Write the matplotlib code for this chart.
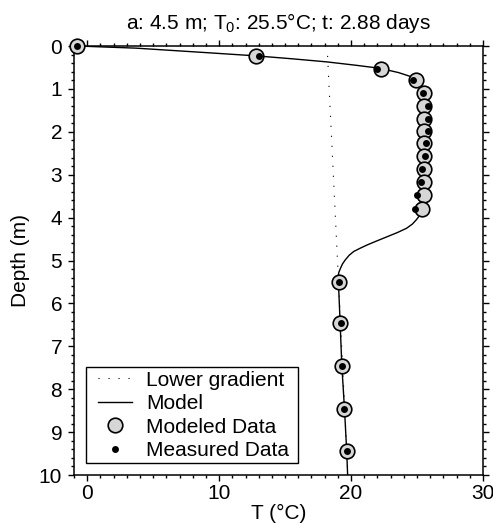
import matplotlib
matplotlib.use("Agg")
import matplotlib.pyplot as plt
from matplotlib.ticker import MultipleLocator
from matplotlib.lines import Line2D
from matplotlib.legend_handler import HandlerLine2D

plt.rcParams['font.family'] = ['Liberation Sans', 'DejaVu Sans']
plt.rcParams['mathtext.fontset'] = 'custom'
plt.rcParams['mathtext.rm'] = 'Liberation Sans'
plt.rcParams['mathtext.it'] = 'Liberation Sans:italic'
plt.rcParams['mathtext.bf'] = 'Liberation Sans:bold'

# Sensor depths (m) with modeled and measured temperatures (°C)
sensor_depth = [0.00, 0.24, 0.54, 0.79, 1.10, 1.40, 1.69, 1.98, 2.27, 2.57,
                2.87, 3.17, 3.48, 3.79, 5.51, 6.46, 7.46, 8.46, 9.45]
modeled_T = [-0.75, 12.8, 22.3, 24.9, 25.55, 25.55, 25.55, 25.55, 25.55, 25.55,
             25.55, 25.55, 25.55, 25.4, 19.05, 19.17, 19.3, 19.5, 19.67]
measured_T = [-0.75, 13.0, 22.0, 24.7, 25.45, 25.8, 25.85, 25.8, 25.7, 25.6,
              25.4, 25.3, 25.0, 24.85, 19.05, 19.22, 19.3, 19.5, 19.67]

# Continuous model profile
model_depth = [0.00, 0.05, 0.15, 0.23, 0.30, 0.37, 0.45, 0.52, 0.62, 0.70,
               0.78, 0.90, 1.05, 1.40, 1.70, 2.00, 2.30, 2.60, 2.90, 3.20,
               3.50, 3.78, 3.88, 3.95, 4.05, 4.15, 4.25, 4.35, 4.45, 4.55,
               4.64, 4.72, 4.79, 4.88, 4.99, 5.08, 5.18, 5.27, 5.36, 5.49,
               6.45, 7.45, 8.45, 9.45, 10.0]
model_T = [-0.75, 3.7, 8.8, 12.8, 15.6, 18.15, 20.4, 22.2, 23.6, 24.4,
           24.9, 25.3, 25.55, 25.6, 25.6, 25.6, 25.6, 25.6, 25.55, 25.55,
           25.5, 25.4, 25.3, 25.2, 24.95, 24.65, 24.2, 23.5, 22.7, 21.9,
           21.2, 20.65, 20.2, 19.85, 19.55, 19.35, 19.2, 19.08, 19.02, 19.04,
           19.17, 19.3, 19.5, 19.67, 19.74]

# Lower (background) gradient
gradient_depth = [0.23, 10.0]
gradient_T = [18.22, 19.76]

title_text = r"a: 4.5 m; T$_\mathregular{0}$: 25.5°C; t: 2.88 days"

fig = plt.figure(figsize=(4.93, 5.29), dpi=100)
ax = fig.add_axes([74 / 493, 1 - 475 / 529, 409 / 493, 429 / 529])

ax.plot(gradient_T, gradient_depth, color='black', lw=0.8,
        linestyle=(0, (1, 8)), zorder=2)
ax.plot(model_T, model_depth, color='black', lw=1.0, zorder=3)
ax.plot(modeled_T, sensor_depth, linestyle='none', marker='o', ms=10.5,
        mfc='#d6d6d6', mec='black', mew=1.2, zorder=4, clip_on=False)
ax.plot(measured_T, sensor_depth, linestyle='none', marker='o', ms=5,
        mfc='black', mec='black', mew=0, zorder=5, clip_on=False)

ax.set_xlim(-1, 30)
ax.set_ylim(10, 0)
ax.xaxis.set_major_locator(MultipleLocator(10))
ax.xaxis.set_minor_locator(MultipleLocator(1))
ax.yaxis.set_major_locator(MultipleLocator(1))
ax.yaxis.set_minor_locator(MultipleLocator(0.2))
ax.tick_params(which='both', direction='out', top=True, right=True,
               labelsize=15, width=1.0)
ax.tick_params(which='major', length=4.5)
ax.tick_params(which='minor', length=2.2)
ax.tick_params(axis='x', pad=2)
ax.tick_params(axis='y', pad=4)
for s in ax.spines.values():
    s.set_linewidth(1.1)

ax.set_xlabel("T (°C)", fontsize=15, labelpad=1)
ax.set_ylabel("Depth (m)", fontsize=15, labelpad=6)
ax.set_title(title_text, fontsize=15, pad=12)

handles = [
    Line2D([], [], color='black', lw=0.8, linestyle=(0, (1, 8))),
    Line2D([], [], color='black', lw=1.0),
    Line2D([], [], linestyle='none', marker='o', ms=10.5, mfc='#d6d6d6',
           mec='black', mew=1.2),
    Line2D([], [], linestyle='none', marker='o', ms=5, mfc='black',
           mec='black', mew=0),
]
labels = ["Lower gradient", "Model", "Modeled Data", "Measured Data "]
leg = ax.legend(handles, labels, loc='lower left',
                bbox_to_anchor=(0.029, 0.027), borderaxespad=0,
                fontsize=15, frameon=True, fancybox=False, edgecolor='black',
                framealpha=1, handlelength=2.07, handletextpad=0.67,
                labelspacing=0.22, borderpad=0.15,
                handler_map={Line2D: HandlerLine2D(xpad=0.43)})
leg.get_frame().set_linewidth(1.0)

fig.savefig("out.png", dpi=100)
